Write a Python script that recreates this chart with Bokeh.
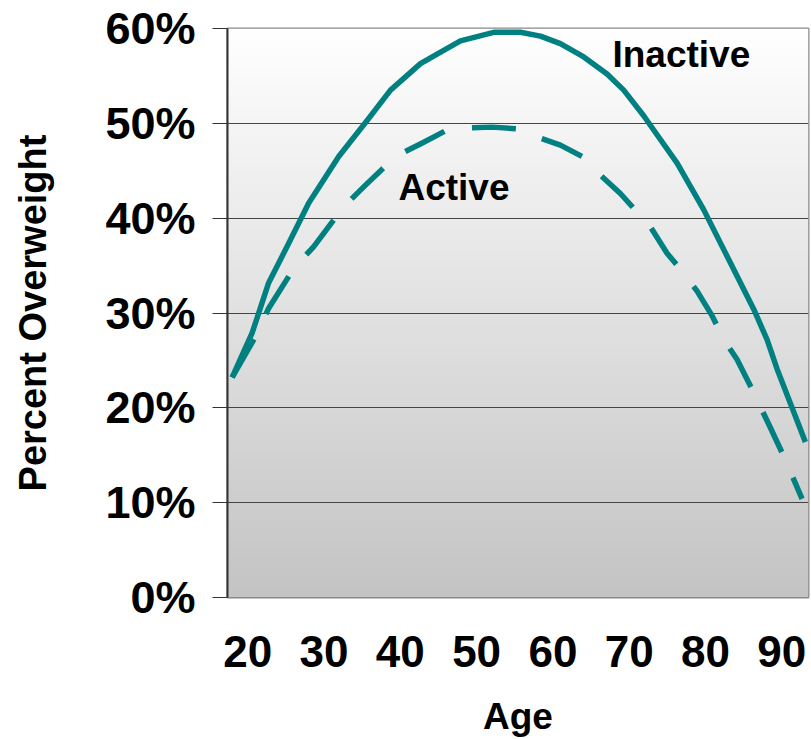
import numpy as np
from bokeh.plotting import figure
from bokeh.models import Range1d, FixedTicker, Label
from bokeh.embed import file_html
from bokeh.resources import INLINE

# Percent overweight by age
inactive_age = [17.96, 20.58, 22.75, 25.16, 28.0, 31.93, 35.65, 38.71, 42.64, 44.82,
                47.88, 52.24, 55.74, 58.36, 60.98, 64.04, 67.1, 69.28, 71.9, 73.21,
                76.28, 79.76, 83.26, 86.32, 88.07, 89.38, 93.09]
inactive_pct = [23.2, 27.9, 33.2, 37.0, 41.6, 46.5, 50.3, 53.5, 56.3, 57.3,
                58.7, 59.6, 59.6, 59.2, 58.4, 57.0, 55.2, 53.5, 50.8, 49.3,
                45.8, 40.9, 35.3, 30.4, 27.2, 24.1, 16.4]

active_age = [17.96, 20.79, 22.75, 26.03, 28.65, 32.58, 35.2, 39.36, 43.07, 46.13,
              48.53, 52.03, 55.74, 57.48, 60.98, 63.83, 66.0, 68.84, 72.77, 74.96,
              77.14, 78.9, 80.87, 82.39, 84.14, 85.89, 88.51, 90.25, 92.66]
active_pct = [23.2, 27.2, 30.5, 34.7, 37.0, 41.2, 43.3, 46.5, 48.0, 49.3,
              49.5, 49.6, 49.4, 48.7, 47.7, 46.5, 44.7, 42.6, 39.1, 36.3,
              34.2, 32.3, 29.7, 27.2, 25.1, 22.3, 17.9, 14.9, 10.4]

age_ticks = [20, 30, 40, 50, 60, 70, 80, 90]
pct_ticks = [0, 10, 20, 30, 40, 50, 60]
pct_labels = ["0%", "10%", "20%", "30%", "40%", "50%", "60%"]

FONT = "Liberation Sans"
TEAL = "#008080"

X0, X1 = 17.35, 93.5
Y0, Y1 = 0, 60

p = figure(width=811, height=739, output_backend="svg", toolbar_location=None,
           x_range=Range1d(X0, X1), y_range=Range1d(Y0, Y1),
           min_border_left=227, min_border_right=3, min_border_top=28,
           min_border_bottom=140)
p.background_fill_color = None
p.border_fill_color = "white"
p.outline_line_color = "#888888"
p.outline_line_width = 2

# vertical silver-to-white wash behind the plot
n = 256
shade = np.linspace(196, 255, n).astype(np.uint8)
img = np.empty((n, 1), dtype=np.uint32)
view = img.view(dtype=np.uint8).reshape((n, 1, 4))
view[:, 0, 0] = shade
view[:, 0, 1] = shade
view[:, 0, 2] = shade
view[:, 0, 3] = 255
p.image_rgba(image=[img], x=X0, y=Y0, dw=X1 - X0, dh=Y1 - Y0, level="image")

# grid
p.xgrid.grid_line_color = None
p.ygrid.ticker = FixedTicker(ticks=pct_ticks)
p.ygrid.grid_line_color = "#444444"
p.ygrid.grid_line_width = 1
p.ygrid.level = "underlay"

# series
p.line(inactive_age, inactive_pct, line_color=TEAL, line_width=5.5, line_join="round")
p.line(active_age, active_pct, line_color=TEAL, line_width=5.5, line_join="round",
       line_dash="44 28")

# x axis
p.xaxis.ticker = FixedTicker(ticks=age_ticks)
p.xaxis.major_tick_out = 0
p.xaxis.major_tick_in = 0
p.xaxis.minor_tick_out = 0
p.xaxis.minor_tick_in = 0
p.xaxis.axis_line_color = "#888888"
p.xaxis.major_label_text_font = FONT
p.xaxis.major_label_text_font_style = "bold"
p.xaxis.major_label_text_font_size = "44px"
p.xaxis.major_label_text_color = "black"
p.xaxis.major_label_standoff = 38
p.xaxis.axis_label = "Age"
p.xaxis.axis_label_text_font = FONT
p.xaxis.axis_label_text_font_style = "bold"
p.xaxis.axis_label_text_font_size = "37px"
p.xaxis.axis_label_text_color = "black"
p.xaxis.axis_label_standoff = 26

# y axis
p.yaxis.ticker = FixedTicker(ticks=pct_ticks)
p.yaxis.major_label_overrides = {t: s for t, s in zip(pct_ticks, pct_labels)}
p.yaxis.major_tick_out = 15
p.yaxis.major_tick_in = 0
p.yaxis.minor_tick_out = 0
p.yaxis.minor_tick_in = 0
p.yaxis.major_tick_line_color = "#333333"
p.yaxis.axis_line_color = "#333333"
p.yaxis.axis_line_width = 2
p.yaxis.major_label_text_font = FONT
p.yaxis.major_label_text_font_style = "bold"
p.yaxis.major_label_text_font_size = "45px"
p.yaxis.major_label_text_color = "black"
p.yaxis.major_label_standoff = 17
p.yaxis.axis_label = "Percent Overweight"
p.yaxis.axis_label_text_font = FONT
p.yaxis.axis_label_text_font_style = "bold"
p.yaxis.axis_label_text_font_size = "38px"
p.yaxis.axis_label_text_color = "black"
p.yaxis.axis_label_standoff = 48

# series names
for txt, x, y in [("Inactive", 67.8, 57.3), ("Active", 39.75, 43.2)]:
    p.add_layout(Label(x=x, y=y, text=txt, text_font=FONT, text_font_style="bold",
                       text_font_size="37px", text_color="black",
                       text_baseline="alphabetic", text_align="left"))

open("out.html", "w").write(file_html(p, INLINE))
